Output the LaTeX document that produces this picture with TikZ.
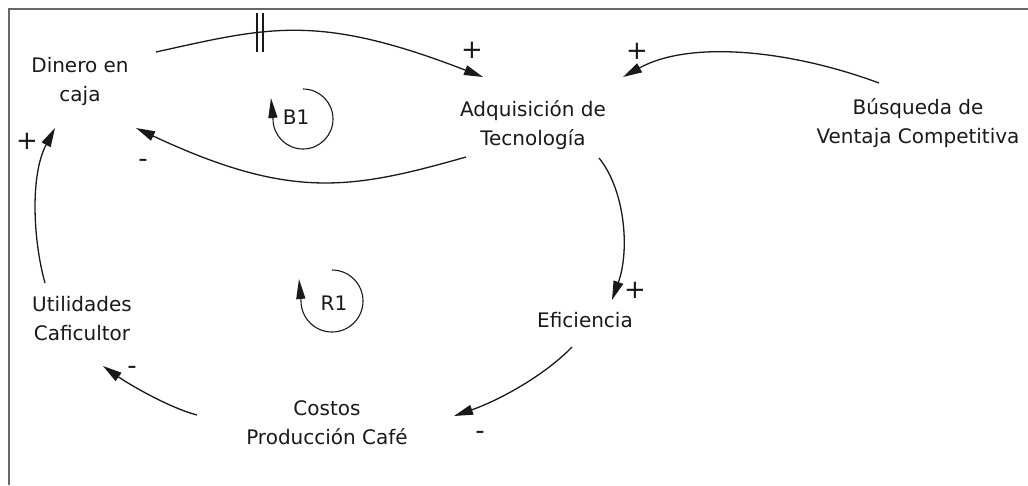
\documentclass[tikz,border=0pt]{standalone}
\usepackage{fontspec}
\setmainfont{DejaVu Sans}
\usetikzlibrary{arrows.meta}
\begin{document}
\begin{tikzpicture}[x=1pt,y=-1pt,
  var/.style={align=center, font=\fontsize{20}{29}\selectfont, inner sep=0pt, text=black!90},
  sign/.style={font=\fontsize{26}{26}\selectfont, inner sep=0pt, text=black!90},
  looplabel/.style={font=\fontsize{20}{24}\selectfont, inner sep=0pt, text=black!90},
  link/.style={line width=1.3pt, draw=black!90, -{Triangle[length=19pt,width=10pt]}},
  loopline/.style={line width=1.1pt, draw=black!90, -{Triangle[length=20pt,width=9pt]}},
  frameline/.style={line width=1.5pt, draw=black!60},
  delaybar/.style={line width=1.5pt, draw=black!90}
]
\useasboundingbox (0,0) rectangle (1028,485);
\draw[frameline] (9,485) -- (9,9) -- (1028,9);

% variables
\node[var] (dinero) at (80,81) {Dinero en\\caja};
\node[var] (adq) at (533,125) {Adquisición de\\Tecnología};
\node[var] (busq) at (918,123) {Búsqueda de\\Ventaja Competitiva};
\node[var] (efic) at (585,320) {Eficiencia};
\node[var] (costos) at (327,423) {Costos\\Producción Café};
\node[var] (util) at (82,319) {Utilidades\\Caficultor};

% connector ports
\path (dinero) +(76,-29) coordinate (dOut)
               +(56,47) coordinate (dInA)
               +(-25,47) coordinate (dInU);
\path (adq) +(-50,-48) coordinate (aIn)
            +(-67,32) coordinate (aOutD)
            +(66,33) coordinate (aOutE)
            +(90,-48) coordinate (aInB);
\path (busq) +(-39,-40) coordinate (bOut);
\path (efic) +(27,-20) coordinate (eIn)
             +(-13,27) coordinate (eOut);
\path (costos) +(127,-7) coordinate (cIn)
               +(-130,-8) coordinate (cOut);
\path (util) +(21,47) coordinate (uIn)
             +(-37,-36) coordinate (uOut);

% connectors
\draw[link] (dOut) .. controls (269,27) and (318,13) .. (aIn);
\draw[link] (aOutD) .. controls (350,190) and (290,200) .. (dInA);
\draw[link] (bOut) .. controls (790,50) and (690,40) .. (aInB);
\draw[link] (aOutE) .. controls (625,190) and (630,250) .. (eIn);
\draw[link] (eOut) .. controls (545,375) and (500,400) .. (cIn);
\draw[link] (cOut) .. controls (170,408) and (130,385) .. (uIn);
\draw[link] (uOut) .. controls (33,240) and (30,175) .. (dInU);

% delay mark
\coordinate (delay) at (260,32.5);
\draw[delaybar] (delay) +(-3,-19.5) -- +(-3,19.5)
                (delay) +(3,-19.5) -- +(3,19.5);

% polarities
\node[sign] (p1) at (472,50) {+};
\node[sign] (p2) at (637,51) {+};
\node[sign] (p3) at (143,163) {-};
\node[sign] (p4) at (27,141) {+};
\node[sign] (p5) at (635,290) {+};
\node[sign] (p6) at (132,370) {-};
\node[sign] (p7) at (480,435) {-};

% loops
\node[looplabel] (b1) at (296,117) {B1};
\draw[loopline] (303,89) arc[start angle=-90, end angle=180, radius=30] -- (271,98);
\node[looplabel] (r1) at (334,303) {R1};
\draw[loopline] (332,270) arc[start angle=-90, end angle=180, radius=31] -- (299,279);
\end{tikzpicture}
\end{document}
